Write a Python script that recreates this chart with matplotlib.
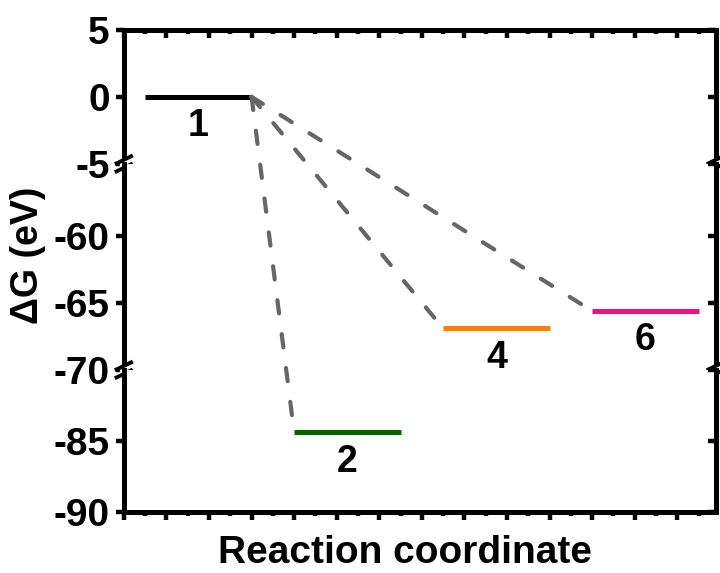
import matplotlib
matplotlib.use("Agg")
import matplotlib.pyplot as plt
from matplotlib.patches import ConnectionPatch

plt.rcParams["font.family"] = ["Liberation Sans", "DejaVu Sans"]
plt.rcParams["font.weight"] = "bold"

# energy levels (eV) and their x spans along the reaction coordinate
labels = ["1", "2", "4", "6"]
energies = [0.0, -84.4, -66.9, -65.6]
x_start = [0.5, 4.0, 7.5, 11.0]
x_end = [3.0, 6.5, 10.0, 13.5]
colors = ["#000000", "#006400", "#FF7F00", "#F0127F"]

# broken y axis: (low, high) for each panel, top to bottom
segments = [(-5, 5), (-70, -54.6), (-90, -80)]
seg_ticks = [[5, 0, -5], [-60, -65, -70], [-85, -90]]
seg_heights = [134, 206, 142]

fig = plt.figure(figsize=(7.2, 5.73), dpi=100)
gs = fig.add_gridspec(3, 1, height_ratios=seg_heights, hspace=0,
                      left=0.172, right=0.994, top=0.948, bottom=0.1065)
axes = [fig.add_subplot(gs[i]) for i in range(3)]

lw_spine = 3.6
for i, ax in enumerate(axes):
    lo, hi = segments[i]
    ax.set_ylim(lo, hi)
    ax.set_xlim(0, 13.9)
    ax.set_yticks(seg_ticks[i])
    ax.set_yticklabels([str(t) for t in seg_ticks[i]], fontsize=28, fontweight="bold")
    for s in ax.spines.values():
        s.set_linewidth(lw_spine)
    ax.spines["top"].set_visible(i == 0)
    ax.spines["bottom"].set_visible(i == 2)
    ax.tick_params(axis="y", which="major", direction="out", length=6, width=3.2,
                   pad=4, right=False)
    ax.set_xticks(range(0, 14))
    ax.set_xticks([k + 0.5 for k in range(0, 14)], minor=True)
    ax.tick_params(axis="x", which="both", labelbottom=False, labeltop=False,
                   bottom=(i == 2), top=(i == 0),
                   direction="in" if i == 0 else "out")
    ax.tick_params(axis="x", which="major", length=6, width=3.2)
    ax.tick_params(axis="x", which="minor", length=3, width=3.2)

    # right-hand ticks point inward
    tw = ax.twinx()
    tw.set_ylim(lo, hi)
    tw.set_yticks(seg_ticks[i])
    tw.tick_params(axis="y", direction="in", length=6, width=3.2, labelright=False)
    for s in tw.spines.values():
        s.set_visible(False)

# energy level bars and their labels
for lab, e, x0, x1, c in zip(labels, energies, x_start, x_end, colors):
    for ax, (lo, hi) in zip(axes, segments):
        if lo <= e <= hi:
            ax.plot([x0, x1], [e, e], color=c, lw=3.6, solid_capstyle="butt")
            ax.annotate(lab, xy=((x0 + x1) / 2, e), xytext=(0, -8),
                        textcoords="offset points", ha="center", va="top",
                        fontsize=27, fontweight="bold")


def owner(e):
    for ax, (lo, hi) in zip(axes, segments):
        if lo <= e <= hi:
            return ax
    return axes[0]


# dashed connectors from state 1 to the products
for e, x0 in zip(energies[1:], x_start[1:]):
    con = ConnectionPatch(xyA=(x_end[0], energies[0]), coordsA=owner(energies[0]).transData,
                          xyB=(x0, e), coordsB=owner(e).transData,
                          color="#666666", lw=3, linestyle=(0, (3.2, 5.0)), zorder=5)
    fig.add_artist(con)

# break marks on both sides of the axis between panels
for ax in axes[:2]:
    h = ax.get_position().height * 5.73 * 100
    w = ax.get_position().width * 7.2 * 100
    dy = 4.0 / h
    dx = 9.0 / w
    for xa in (0, 1):
        trans = ax.transAxes
        ax.plot([xa, xa], [-dy, dy], transform=trans, color="white",
                lw=6, clip_on=False, zorder=10, solid_capstyle="butt")
        for off in (-dy, dy):
            ax.plot([xa - dx, xa + dx], [off - dy * 1.1, off + dy * 1.1], transform=trans,
                    color="black", lw=2.8, clip_on=False, zorder=11,
                    solid_capstyle="butt")

fig.text(0.039, 0.555, "ΔG (eV)", rotation=90, ha="center", va="center",
         fontsize=27, fontweight="bold")
fig.text(0.5625, 0.017, "Reaction coordinate", ha="center", va="baseline",
         fontsize=28, fontweight="bold")

fig.savefig("out.png", dpi=100)
